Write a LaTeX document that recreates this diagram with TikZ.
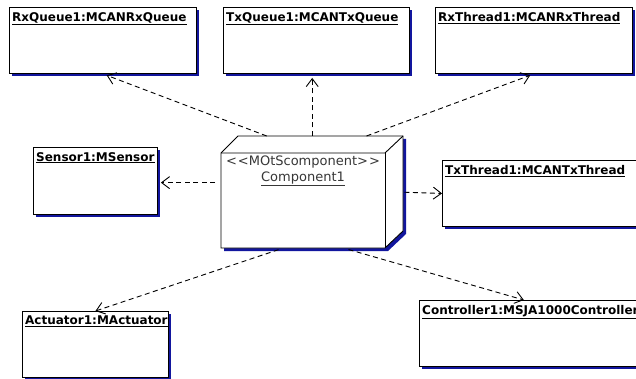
\documentclass[tikz,border=0pt]{standalone}
\usepackage{fontspec}
\setmainfont{DejaVu Sans}
\usetikzlibrary{arrows.meta,shadows}

\definecolor{shadowblue}{RGB}{18,22,158}
\definecolor{textgray}{RGB}{55,55,55}

\tikzset{
	obj/.style={draw=black, line width=0.9pt, fill=white, anchor=north west, inner sep=0pt,
		drop shadow={shadow xshift=3pt, shadow yshift=-3pt, fill=shadowblue, opacity=1}},
	head/.style={anchor=north west, inner sep=0pt, font=\fontsize{12}{14}\selectfont\bfseries},
	dep/.style={line width=0.9pt, dash pattern=on 5pt off 3.5pt,
		-{Straight Barb[length=8pt,width=12pt]}},
}

\begin{document}
\begin{tikzpicture}[x=1pt,y=-1pt]
				\useasboundingbox (0,0) rectangle (636,379);
				\node[obj, minimum width=187pt, minimum height=66pt] (rxq) at (9,7) {};
				\node[head] (rxq-t) at ([xshift=3pt,yshift=-5pt]rxq.north west) {\underline{RxQueue1:MCANRxQueue}};
				\node[obj, minimum width=186pt, minimum height=66pt] (txq) at (223,7) {};
				\node[head] (txq-t) at ([xshift=3pt,yshift=-5pt]txq.north west) {\underline{TxQueue1:MCANTxQueue}};
				\node[obj, minimum width=197pt, minimum height=66pt] (rxt) at (435,7) {};
				\node[head] (rxt-t) at ([xshift=3pt,yshift=-5pt]rxt.north west) {\underline{RxThread1:MCANRxThread}};
				\node[obj, minimum width=124pt, minimum height=67pt] (sens) at (33,147) {};
				\node[head] (sens-t) at ([xshift=3pt,yshift=-5pt]sens.north west) {\underline{Sensor1:MSensor}};
				\node[obj, minimum width=210pt, minimum height=66pt] (txt) at (442,160) {};
				\node[head] (txt-t) at ([xshift=3pt,yshift=-5pt]txt.north west) {\underline{TxThread1:MCANTxThread}};
				\node[obj, minimum width=146pt, minimum height=66pt] (act) at (22,311) {};
				\node[head] (act-t) at ([xshift=3pt,yshift=-5pt]act.north west) {\underline{Actuator1:MActuator}};
				\node[obj, minimum width=240pt, minimum height=66pt] (ctrl) at (419,300) {};
				\node[head] (ctrl-t) at ([xshift=3pt,yshift=-5pt]ctrl.north west) {\underline{Controller1:MSJA1000Controller}};
				\fill[shadowblue, shift={(3,3)}] (221,153) -- (238,136) -- (403,136) -- (403,231) -- (385,248) -- (221,248) -- cycle;
				\draw[line width=0.9pt, fill=white] (221,153) -- (238,136) -- (403,136) -- (403,231) -- (385,248) -- (221,248) -- cycle;
				\draw[line width=0.9pt] (221,153) -- (385,153) -- (403,136);
				\draw[line width=0.9pt] (385,153) -- (385,248);
				\node[inner sep=0pt, minimum width=182pt, minimum height=112pt, anchor=north west] (comp) at (221,136) {};
				\node[font=\fontsize{13}{14}\selectfont, text=textgray, inner sep=0pt] (comp-s) at (303,162) {<\kern1pt<MOtScomponent>\kern1pt>};
				\node[font=\fontsize{13}{14}\selectfont, text=textgray, inner sep=0pt] (comp-n) at (303,179) {\underline{Component1}};
				\draw[dep, shorten >=4pt] (comp.129) -- (rxq.south);
				\draw[dep, shorten >=4pt] (comp.north) -- (comp.north |- txq.south);
				\draw[dep, shorten >=4pt] (comp.46) -- (rxt.south);
				\draw[dep, shorten <=6pt, shorten >=3pt] (comp.174) -- (comp.174 -| sens.east);
				\draw[dep, shorten <=1pt] (comp.east) -- (txt.west);
				\draw[dep, shorten <=4pt] (comp.242) -- (act.north);
				\draw[dep, shorten <=4pt] (comp.300) -- (ctrl.115);
			\end{tikzpicture}
\end{document}
